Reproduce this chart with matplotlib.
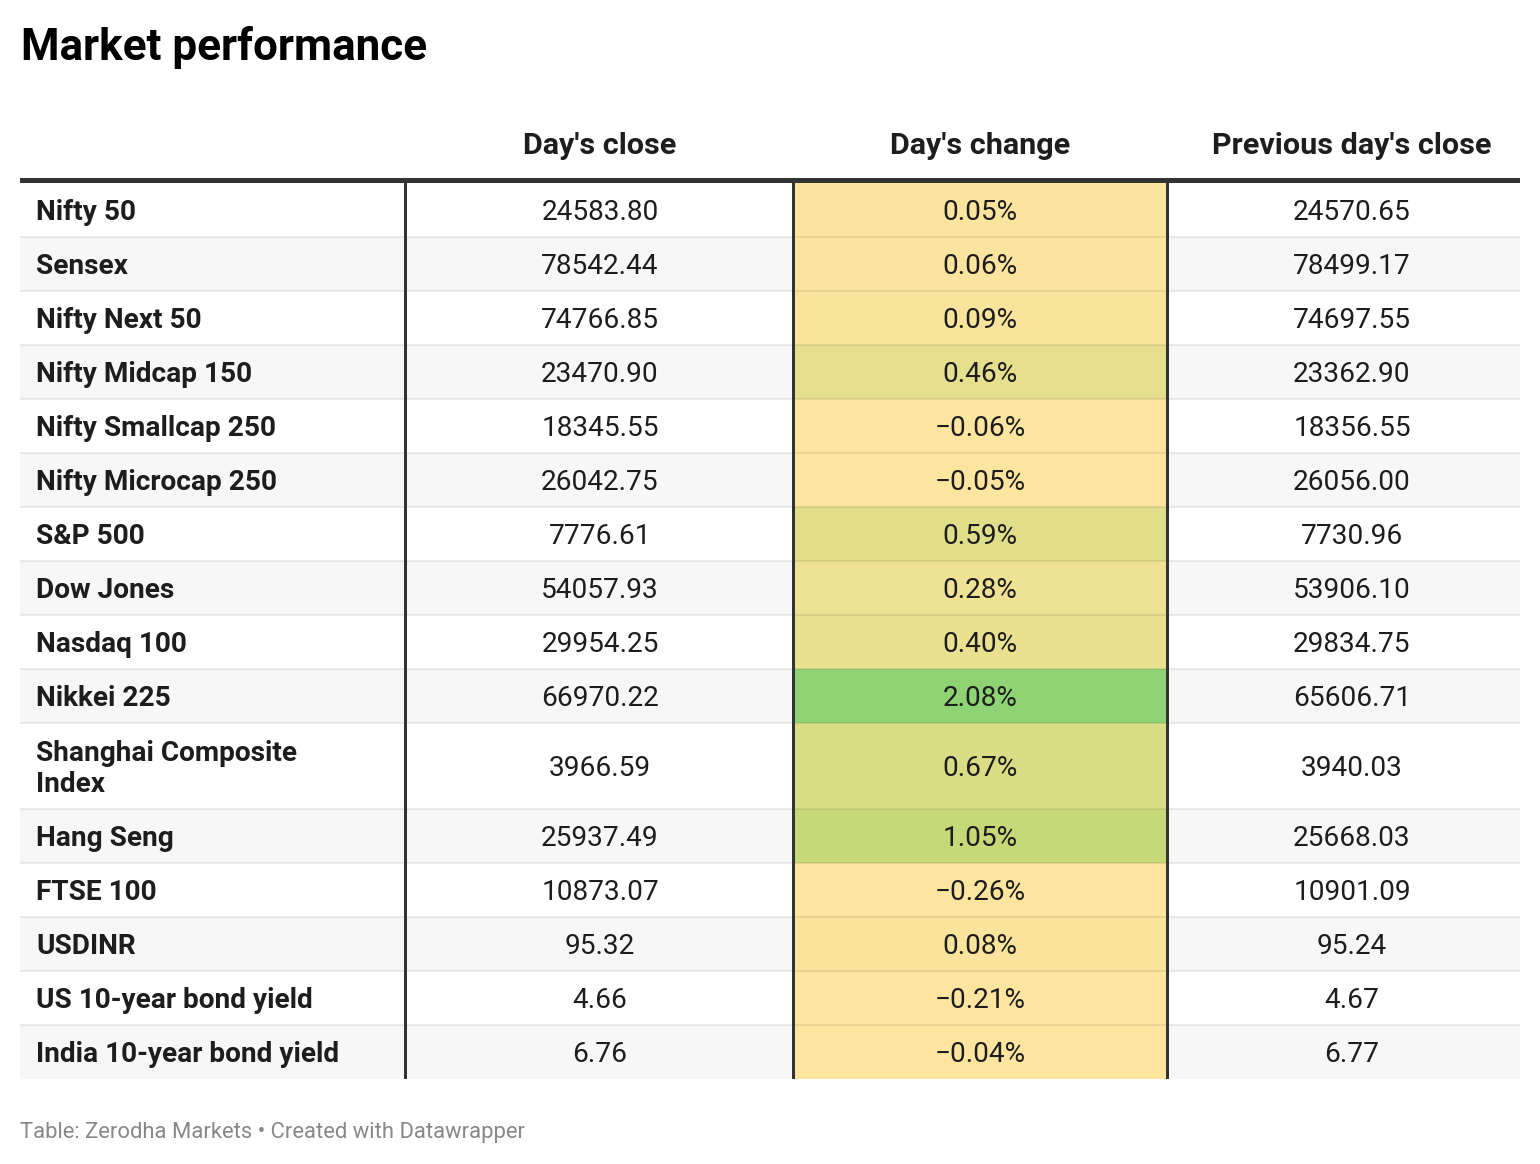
import matplotlib.pyplot as plt
from matplotlib.colors import LinearSegmentedColormap, Normalize
from matplotlib.patches import Rectangle

plt.rcParams['font.family'] = ['Roboto', 'DejaVu Sans']

title = "Market performance"
columns = ["Day's close", "Day's change", "Previous day's close"]
names = ["Nifty 50", "Sensex", "Nifty Next 50", "Nifty Midcap 150",
         "Nifty Smallcap 250", "Nifty Microcap 250", "S&P 500", "Dow Jones",
         "Nasdaq 100", "Nikkei 225", "Shanghai Composite\nIndex", "Hang Seng",
         "FTSE 100", "USDINR", "US 10-year bond yield", "India 10-year bond yield"]
close = [24583.80, 78542.44, 74766.85, 23470.90, 18345.55, 26042.75, 7776.61,
         54057.93, 29954.25, 66970.22, 3966.59, 25937.49, 10873.07, 95.32,
         4.66, 6.76]
change = [0.05, 0.06, 0.09, 0.46, -0.06, -0.05, 0.59, 0.28, 0.40, 2.08, 0.67,
          1.05, -0.26, 0.08, -0.21, -0.04]
prev_close = [24570.65, 78499.17, 74697.55, 23362.90, 18356.55, 26056.00,
              7730.96, 53906.10, 29834.75, 65606.71, 3940.03, 25668.03,
              10901.09, 95.24, 4.67, 6.77]
footer = "Table: Zerodha Markets \u2022 Created with Datawrapper"

W, H = 1540, 1164
PX = 72 / 100  # pixels -> points at dpi 100

fig = plt.figure(figsize=(W / 100, H / 100), dpi=100)
ax = fig.add_axes([0, 0, 1, 1])
ax.set_xlim(0, W)
ax.set_ylim(H, 0)
ax.axis('off')

cmap = LinearSegmentedColormap.from_list(
    'chg', [(0, '#fee59f'), (0.5, '#c8d878'), (1, '#8fd474')])
norm = Normalize(vmin=0, vmax=max(change), clip=True)

left, right = 20, 1520
col_edges = [405, 793, 1167]
col_centers = [600, 980, 1352]
text_col = '#1d1d1d'

ax.text(left + 1, 60, title, fontsize=44 * PX, fontweight='bold', color='black',
        va='baseline', ha='left')
for cx, c in zip(col_centers, columns):
    ax.text(cx, 154, c, fontsize=30.5 * PX, fontweight='bold', color=text_col,
            va='baseline', ha='center')

y = 183
for i, name in enumerate(names):
    nlines = name.count('\n') + 1
    h = 54 + 32 * (nlines - 1)
    bg = 'white' if i % 2 == 0 else '#f7f7f7'
    ax.add_patch(Rectangle((left, y), right - left, h, color=bg, lw=0, zorder=1))
    ax.add_patch(Rectangle((col_edges[1], y), col_edges[2] - col_edges[1], h,
                           color=cmap(norm(change[i])), lw=0, zorder=2))
    if i > 0:
        ax.plot([left, right], [y, y], color=(0, 0, 0, 0.08), lw=2 * PX,
                zorder=3, solid_capstyle='butt')
    cy = y + h / 2
    base = cy + 10
    ax.text(36, cy + 3, name, fontsize=28 * PX, fontweight='bold',
            color=text_col, va='center', ha='left', linespacing=1.2, zorder=5)
    chg = f"{change[i]:.2f}%".replace('-', '\u2212')
    for cx, s in zip(col_centers, [f"{close[i]:.2f}", chg, f"{prev_close[i]:.2f}"]):
        ax.text(cx, base, s, fontsize=28 * PX, color=text_col,
                va='baseline', ha='center', zorder=5)
    y += h

bottom = y
ax.add_patch(Rectangle((left, 178), right - left, 5, color='#333333', lw=0, zorder=6))
for xe in col_edges:
    ax.add_patch(Rectangle((xe - 1.5, 183), 3, bottom - 183, color='#333333',
                           lw=0, zorder=6))

ax.text(left, 1138, footer, fontsize=22 * PX, color='#888888',
        va='baseline', ha='left')

fig.savefig('out.png', dpi=100)
